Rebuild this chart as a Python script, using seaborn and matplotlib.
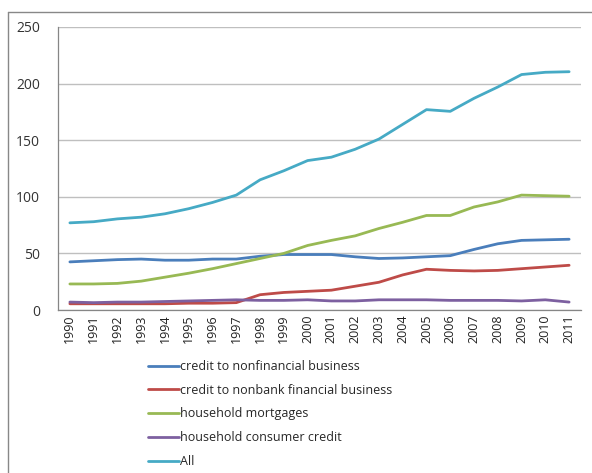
import matplotlib
matplotlib.use("Agg")
import matplotlib.pyplot as plt
import seaborn as sns
import pandas as pd
from matplotlib.lines import Line2D

years = list(range(1990, 2012))
nonfinancial = [42.5, 43.5, 44.5, 45, 44, 44, 45, 45, 47.5, 49, 49, 49, 47, 45.5, 46, 47, 48, 53.5, 58.5, 61.5, 62, 62.5]
nonbank = [5.5, 5.5, 5.5, 5.5, 5.5, 6, 6, 6.5, 13.5, 15.5, 16.5, 17.5, 21, 24.5, 31, 36, 35, 34.5, 35, 36.5, 38, 39.5]
mortgages = [23, 23, 23.5, 25.5, 29, 32.5, 36.5, 41, 45.5, 50, 57, 61.5, 65.5, 72, 77.5, 83.5, 83.5, 91, 95.5, 101.5, 101, 100.5]
consumer = [7, 6.5, 7, 7, 7.5, 8, 8.5, 9, 8.5, 8.5, 9, 8, 8, 9, 9, 9, 8.5, 8.5, 8.5, 8, 9, 7]
all_credit = [77, 78, 80.5, 82, 85, 89.5, 95, 101.5, 115, 123, 132, 135, 142, 151, 164, 177, 175.5, 187, 197, 208, 210, 210.5]

series_names = ["credit to nonfinancial business", "credit to nonbank financial business",
                "household mortgages", "household consumer credit", "All"]
series_values = [nonfinancial, nonbank, mortgages, consumer, all_credit]
colors = ["#4A7EBB", "#BE4B48", "#98B954", "#7D60A0", "#46AAC5"]

rows = []
for name, vals in zip(series_names, series_values):
    for y, v in zip(years, vals):
        rows.append({"year": y, "value": v, "series": name})
df = pd.DataFrame(rows)

sns.set_style("white")
plt.rcParams["font.family"] = ["Open Sans", "DejaVu Sans"]

fig = plt.figure(figsize=(5.92, 4.73), dpi=100)
ax = fig.add_axes([58/592, 1 - 310/473, (581 - 58)/592, (310 - 27)/473])

sns.lineplot(data=df, x="year", y="value", hue="series", hue_order=series_names,
             palette=colors, linewidth=2.0, ax=ax, legend=False)

ax.set_xlim(1989.5, 2011.5)
ax.set_ylim(0, 250)
ax.set_yticks([0, 50, 100, 150, 200, 250])
ax.set_xticks(years)
ax.set_xticklabels([str(y) for y in years], rotation=90)
ax.set_xticks([y + 0.5 for y in [1989] + years], minor=True)
ax.tick_params(axis="x", which="major", length=0, pad=3, labelsize=9, labelcolor="#222222")
ax.tick_params(axis="x", which="minor", length=4, color="#868686", width=0.8)
ax.tick_params(axis="y", which="major", length=4, color="#868686", width=0.8, labelsize=10, labelcolor="#333333", pad=9)
ax.yaxis.grid(True, color="#BFBFBF", linewidth=1.0)
ax.set_axisbelow(True)
for s in ["top", "right"]:
    ax.spines[s].set_visible(False)
for s in ["left", "bottom"]:
    ax.spines[s].set_color("#868686")
    ax.spines[s].set_linewidth(0.9)
ax.set_xlabel("")
ax.set_ylabel("")

handles = [Line2D([0], [0], color=c, linewidth=2.0) for c in colors]
fig.legend(handles, series_names, loc="upper left", bbox_to_anchor=(148/592, 1 - 360/473),
           frameon=False, fontsize=9, handlelength=2.45, handletextpad=0.15,
           labelspacing=0.86, borderpad=0, borderaxespad=0)

# chart border
fig.add_artist(Line2D([8/592, 8/592], [0, 1 - 12/473], color="#888888", linewidth=1.0, transform=fig.transFigure))
fig.add_artist(Line2D([8/592, 1], [1 - 12/473, 1 - 12/473], color="#888888", linewidth=1.0, transform=fig.transFigure))

fig.savefig("out.png", dpi=100)
